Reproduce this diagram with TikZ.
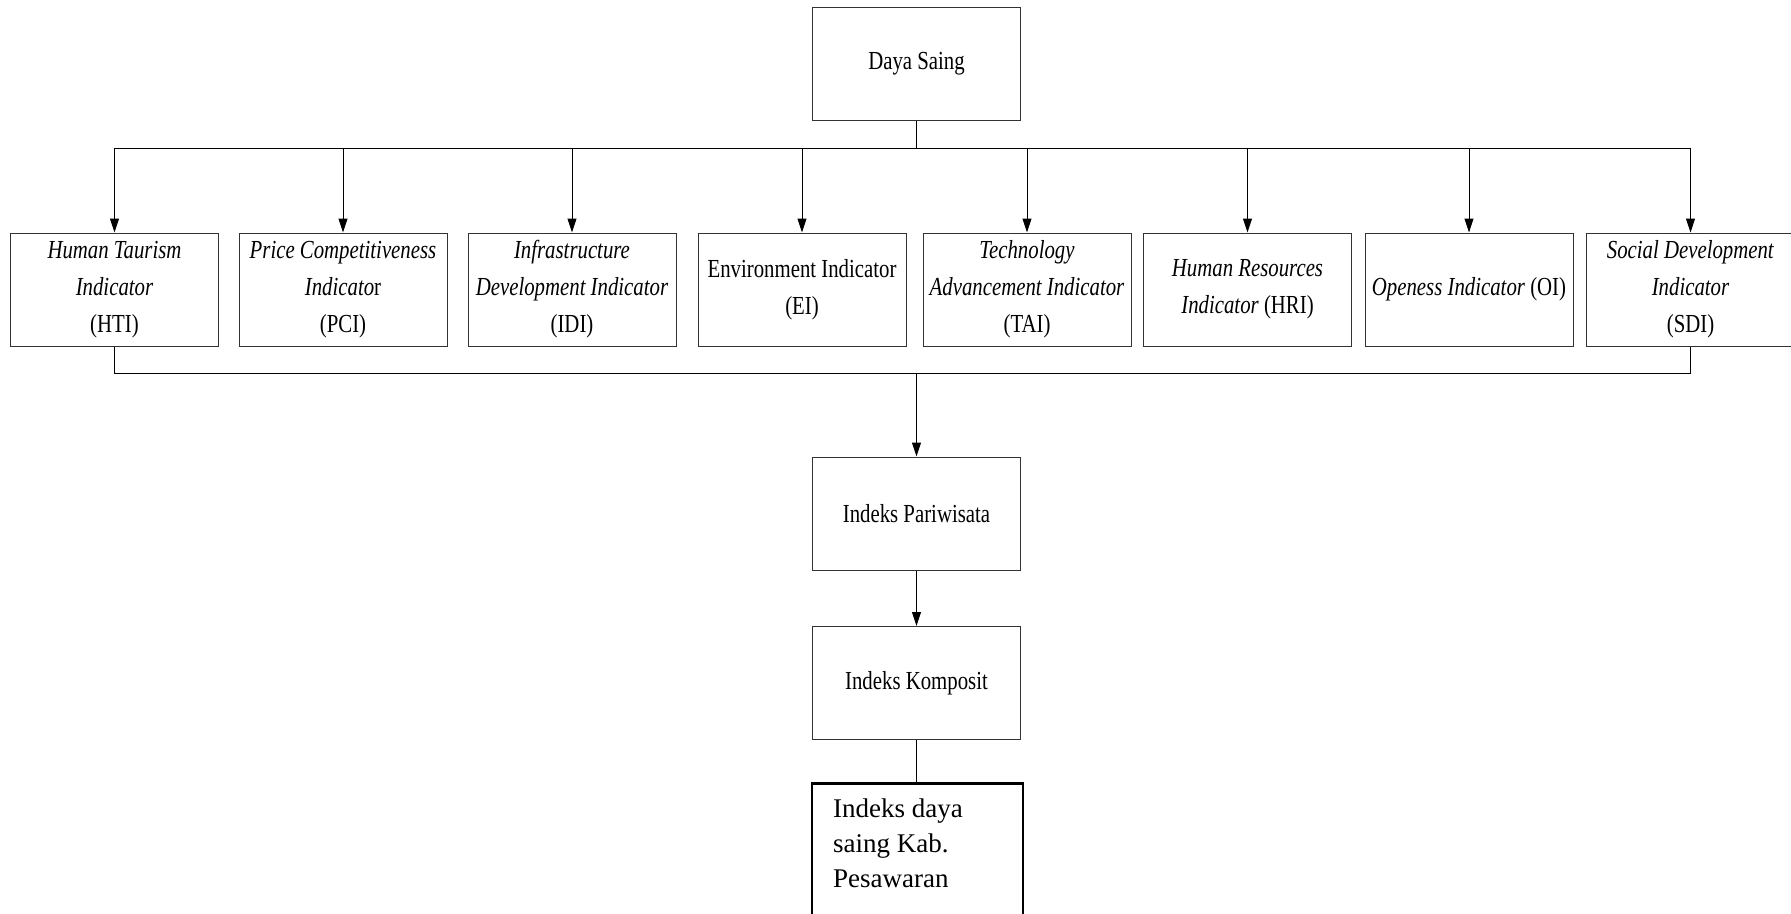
\documentclass[tikz,border=0pt]{standalone}
\usepackage{fontspec}
\setmainfont{Liberation Serif}
\newfontfamily\condf{Liberation Serif}[FakeStretch=0.8]
\usetikzlibrary{arrows.meta}
\begin{document}
\begin{tikzpicture}[x=1pt,y=-1pt,
  box/.style={draw=black!80, line width=1pt, minimum width=208pt, minimum height=113pt,
    inner sep=0pt, align=center, font=\condf\fontsize{26}{37}\selectfont},
  conn/.style={line width=1pt, draw=black},
  arr/.style={conn, -{Triangle[width=9pt,length=14pt]}}]
\useasboundingbox (0,0) rectangle (1791,913);

\node[box] (ds) at (916.5,63.5) {Daya Saing};

\node[box] (hti) at (114.5,289.5) {\textit{Human Taurism}\\\textit{Indicator}\\(HTI)};
\node[box] (pci) at (343,289.5) {\textit{Price Competitiveness}\\\textit{Indicato}r\\(PCI)};
\node[box] (idi) at (572,289.5) {\textit{Infrastructure}\\\textit{Development Indicator}\\(IDI)};
\node[box] (ei) at (802,289.5) {Environment Indicator\\(EI)};
\node[box] (tai) at (1027,289.5) {\textit{Technology}\\\textit{Advancement Indicator}\\(TAI)};
\node[box] (hri) at (1247.5,289.5) {\textit{Human Resources}\\\textit{Indicator} (HRI)};
\node[box] (oi) at (1469,289.5) {\raisebox{-9pt}{\textit{Openess Indicator} (OI)}};
\node[box] (sdi) at (1690.5,289.5) {\textit{Social Development}\\\textit{Indicator}\\(SDI)};

\node[box] (par) at (916.5,513.5) {Indeks Pariwisata};
\node[box] (kom) at (916.5,683) {Indeks Komposit};

\node[draw=black, line width=2.5pt, minimum width=211pt, minimum height=160pt, anchor=north, inner sep=0pt] (last) at (917.5,782) {};
\node[anchor=north west, inner sep=0pt, align=left, font=\fontsize{27}{35}\selectfont] (lasttext) at (833,799)
  {Indeks daya\\saing Kab.\\Pesawaran};

\coordinate (tj) at (916.5,148);
\coordinate (bj) at (916.5,373);

\draw[conn] (ds.south) -- (tj);
\draw[conn] (hti.north |- tj) -- (sdi.north |- tj);
\foreach \n in {hti,pci,idi,ei,tai,hri,oi,sdi}
  \draw[arr] (\n.north |- tj) -- (\n.north);

\draw[conn] (hti.south) -- (hti.south |- bj) -- (sdi.south |- bj) -- (sdi.south);
\draw[arr] (bj) -- (par.north);
\draw[arr] (par.south) -- (kom.north);
\draw[conn] (kom.south) -- (kom.south |- last.north);
\end{tikzpicture}
\end{document}
